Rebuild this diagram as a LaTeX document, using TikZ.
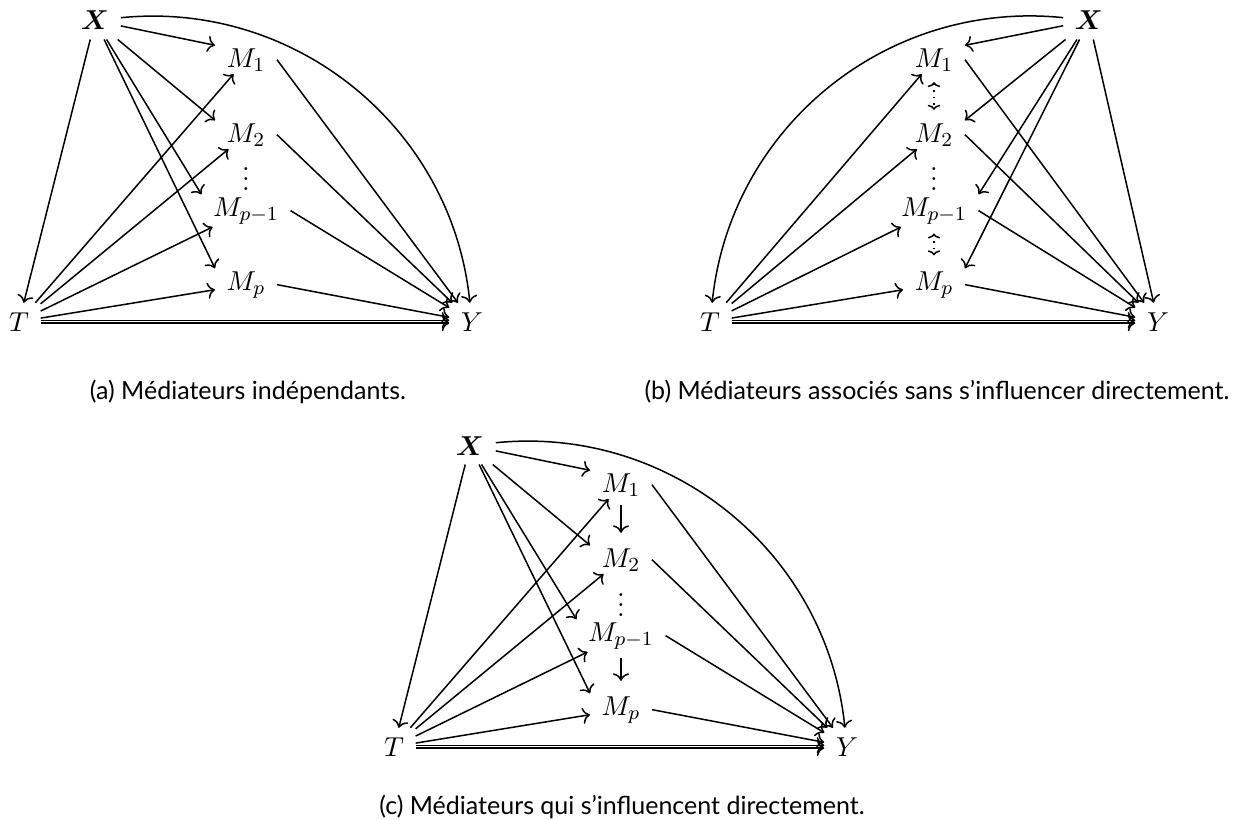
\documentclass[tikz,border=0pt]{standalone}
\usepackage{amsmath}
\usepackage{fontspec}
\newfontfamily\capfont{Lato}
\usetikzlibrary{arrows.meta}
\tikzset{
  mfont/.style={font=\fontsize{10.95}{13.6}\selectfont},
  v/.style={mfont, inner xsep=4.5pt, inner ysep=3.6pt, anchor=base},
  mv/.style={mfont, inner xsep=4.5pt, inner ysep=1pt, anchor=base},
  vdts/.style={mfont, anchor=base, inner sep=0pt},
  e/.style={->, line width=0.6pt},
  dd/.style={{Computer Modern Rightarrow[length=2pt,width=5pt]}-{Computer Modern Rightarrow[length=2pt,width=5pt]}, line width=0.6pt, dotted},
  vd/.style={->, line width=0.6pt, shorten <=2.5pt, shorten >=5pt},
  captxt/.style={anchor=base, inner sep=0pt, font=\capfont\fontsize{10pt}{12pt}\selectfont},
  >={Computer Modern Rightarrow[length=3pt,width=6.5pt]}
}
\begin{document}
\begin{tikzpicture}[x=0.4pt,y=-0.4pt]
\useasboundingbox (0,0) rectangle (1236,820);

% ---------------- panel (a) ----------------
\node[v] (aX) at (95,30) {$\boldsymbol{X}$};
\node[v] (aT) at (19,331) {$T$};
\node[v] (aY) at (472,331) {$Y$};
\node[mv] (aM1) at (246,67) {$M_1$};
\node[mv] (aM2) at (246,142) {$M_2$};
\node[vdts] (aD) at (246,191) {$\vdots$};
\node[mv] (aMq) at (246,216) {$M_{p-1}$};
\node[mv] (aMp) at (246,290) {$M_p$};

\draw[e] (aX) -- (aT);
\draw[e] (aX) -- (aM1.north west);
\draw[e] (aX) -- (aM2.north west);
\draw[e] (aX) -- (aMq.north west);
\draw[e] (aX) -- (aMp.north west);
\draw[e] (aX) to[bend left=45] (aY);
\draw[e] (aT) -- (aM1);
\draw[e] (aT) -- (aM2);
\draw[e] (aT) -- (aMq);
\draw[e] (aT) -- (aMp);
\draw[e] ([yshift=0.55pt]aT.east) -- ([yshift=0.55pt]aY.west);
\draw[e] ([yshift=-0.55pt]aT.east) -- ([yshift=-0.55pt]aY.west);
\draw[e] (aM1.east) -- (aY);
\draw[e] (aM2.east) -- (aY);
\draw[e] (aMq.east) -- (aY);
\draw[e] (aMp.east) -- (aY);

\node[captxt] (capa) at (248,399) {(a) Médiateurs indépendants.};

% ---------------- panel (b) ----------------
\node[v] (bX) at (1089,30) {$\boldsymbol{X}$};
\node[v] (bT) at (710,331) {$T$};
\node[v] (bY) at (1158,331) {$Y$};
\node[mv] (bM1) at (934,67) {$M_1$};
\node[mv] (bM2) at (934,142) {$M_2$};
\node[vdts] (bD) at (934,191) {$\vdots$};
\node[mv] (bMq) at (934,216) {$M_{p-1}$};
\node[mv] (bMp) at (934,290) {$M_p$};

\draw[e] (bX) -- (bM1.north east);
\draw[e] (bX) -- (bM2.north east);
\draw[e] (bX) -- (bMq.north east);
\draw[e] (bX) -- (bMp.north east);
\draw[e] (bX) -- (bY);
\draw[e] (bX) to[bend right=45] (bT);
\draw[e] (bT) -- (bM1);
\draw[e] (bT) -- (bM2);
\draw[e] (bT) -- (bMq);
\draw[e] (bT) -- (bMp);
\draw[e] ([yshift=0.55pt]bT.east) -- ([yshift=0.55pt]bY.west);
\draw[e] ([yshift=-0.55pt]bT.east) -- ([yshift=-0.55pt]bY.west);
\draw[e] (bM1.east) -- (bY);
\draw[e] (bM2.east) -- (bY);
\draw[e] (bMq.east) -- (bY);
\draw[e] (bMp.east) -- (bY);
\draw[dd, shorten <=3.2pt, shorten >=4.2pt] (bM1.south) -- (bM2.north);
\draw[dd, shorten <=2.6pt, shorten >=5.2pt] (bMq.south) -- (bMp.north);

\node[captxt] (capb) at (937,399) {(b) Médiateurs associés sans s’influencer directement.};

% ---------------- panel (c) ----------------
\node[v] (cX) at (470,455) {$\boldsymbol{X}$};
\node[v] (cT) at (394,756) {$T$};
\node[v] (cY) at (847,756) {$Y$};
\node[mv] (cM1) at (621,492) {$M_1$};
\node[mv] (cM2) at (621,567) {$M_2$};
\node[vdts] (cD) at (621,616) {$\vdots$};
\node[mv] (cMq) at (621,641) {$M_{p-1}$};
\node[mv] (cMp) at (621,715) {$M_p$};

\draw[e] (cX) -- (cT);
\draw[e] (cX) -- (cM1.north west);
\draw[e] (cX) -- (cM2.north west);
\draw[e] (cX) -- (cMq.north west);
\draw[e] (cX) -- (cMp.north west);
\draw[e] (cX) to[bend left=45] (cY);
\draw[e] (cT) -- (cM1);
\draw[e] (cT) -- (cM2);
\draw[e] (cT) -- (cMq);
\draw[e] (cT) -- (cMp);
\draw[e] ([yshift=0.55pt]cT.east) -- ([yshift=0.55pt]cY.west);
\draw[e] ([yshift=-0.55pt]cT.east) -- ([yshift=-0.55pt]cY.west);
\draw[e] (cM1.east) -- (cY);
\draw[e] (cM2.east) -- (cY);
\draw[e] (cMq.east) -- (cY);
\draw[e] (cMp.east) -- (cY);
\draw[vd] (cM1.south) -- (cM2.north);
\draw[vd] (cMq.south) -- (cMp.north);

\node[captxt] (capc) at (622,814) {(c) Médiateurs qui s’influencent directement.};
\end{tikzpicture}
\end{document}
